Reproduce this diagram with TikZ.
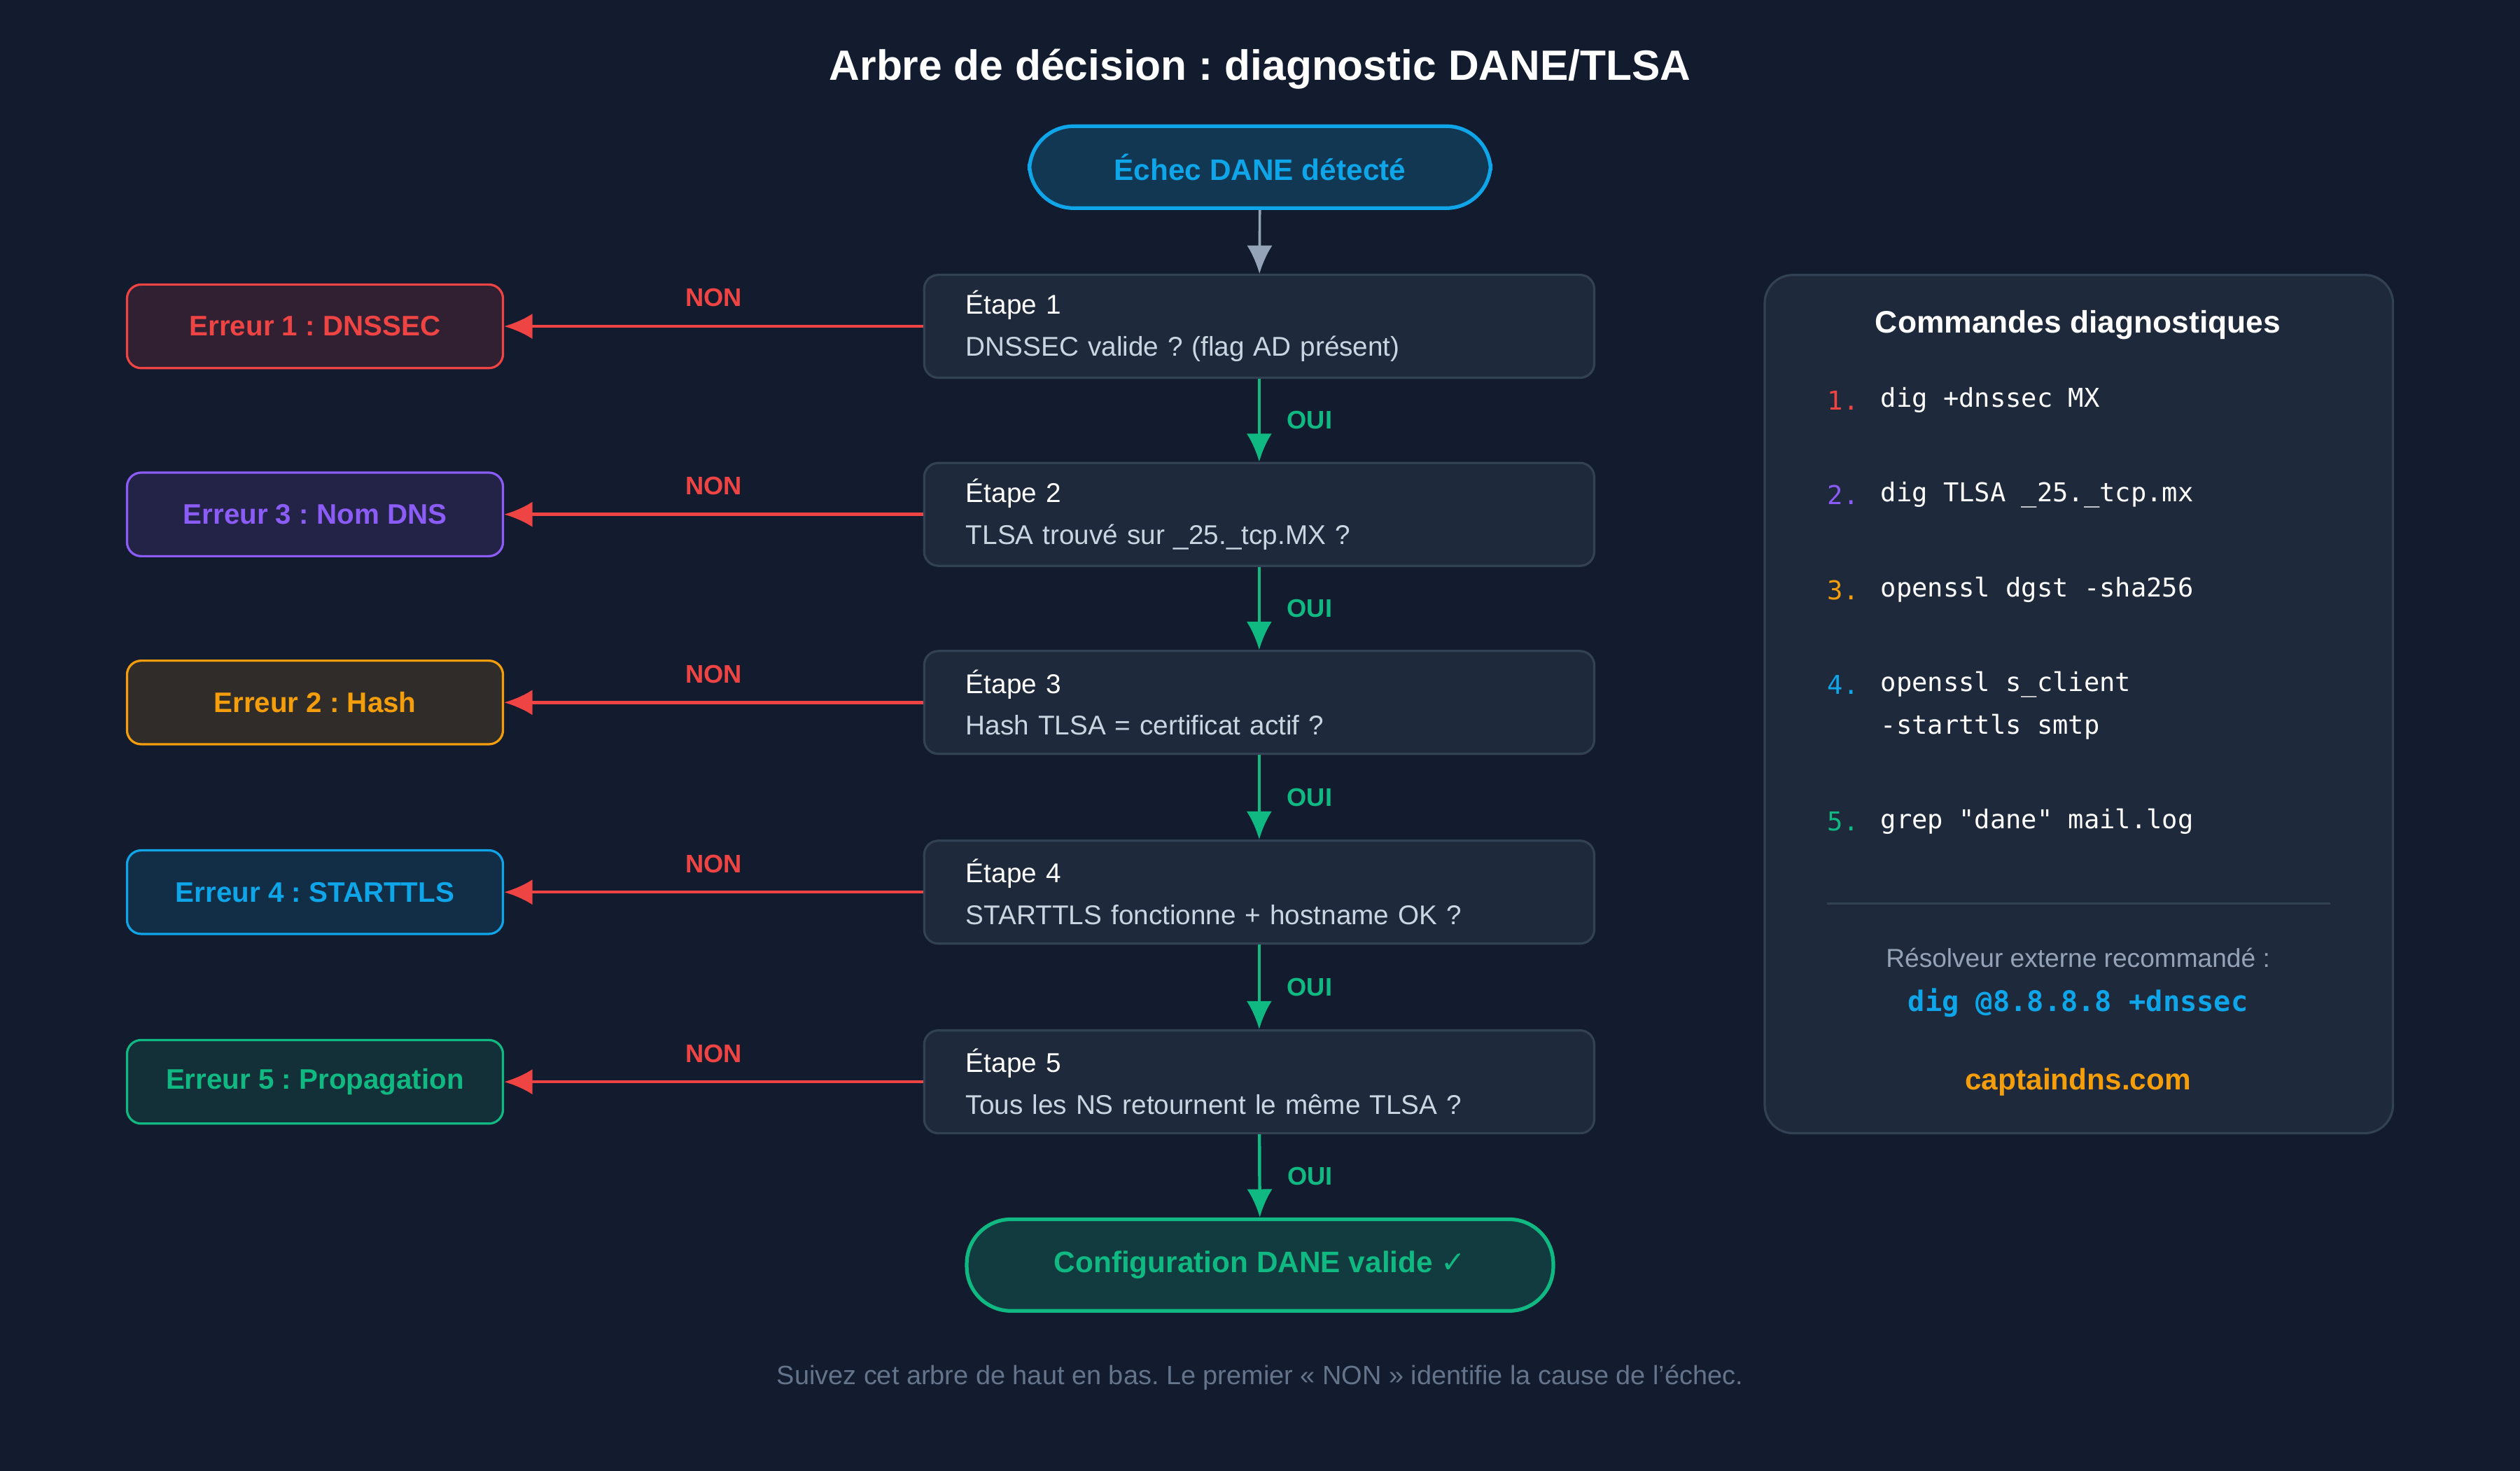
\documentclass[tikz,border=0pt]{standalone}
\usepackage{fontspec}
\setmainfont{Liberation Sans}
\newfontfamily\monof{DejaVu Sans Mono}
\newfontfamily\symf{DejaVu Sans}
\usepackage{tikz}
\usetikzlibrary{arrows.meta}
\usepackage{xcolor}
\frenchspacing

\definecolor{fond}{HTML}{131B2E}
\definecolor{carte}{HTML}{1E293B}
\definecolor{bord}{HTML}{334155}
\definecolor{gris}{HTML}{94A3B8}
\definecolor{grisclair}{HTML}{CBD5E1}
\definecolor{grisfonce}{HTML}{64748B}
\definecolor{rouge}{HTML}{EF4444}
\definecolor{violet}{HTML}{8B5CF6}
\definecolor{orange}{HTML}{F59E0B}
\definecolor{cyan}{HTML}{0EA5E9}
\definecolor{vert}{HTML}{10B981}

\tikzset{
  etape/.style={draw=bord,fill=carte,rounded corners=5pt,line width=0.8pt,
    minimum width=8.34cm,minimum height=1.28cm,text width=7.3cm,align=left,
    inner xsep=0.52cm,font=\fontsize{9.6}{14.8}\selectfont},
  erreur/.style={draw=#1,fill=#1!13!fond,text=#1,rounded corners=5pt,line width=0.8pt,
    minimum width=4.68cm,minimum height=1.04cm,font=\fontsize{10}{12}\selectfont\bfseries},
  terminal/.style={draw=#1,fill=#1!20!fond,text=#1,rounded corners=0.55cm,line width=1.3pt,
    font=\fontsize{10.5}{12}\selectfont\bfseries},
  fleche/.style={-{Latex[length=10pt,width=9pt]},line width=1.1pt},
  etiq/.style={font=\fontsize{9}{11}\selectfont\bfseries},
  cmd/.style={anchor=west,text=white,font=\monof\fontsize{9.2}{15}\selectfont}
}

\begin{document}
\begin{tikzpicture}[x=0.02cm,y=-0.02cm]

  % Fond et cadre
  \fill[fond] (0,0) rectangle (1568,915);
  \useasboundingbox (0,0) rectangle (1568,915);

  % Titre
  \node[text=white,font=\fontsize{15}{18}\selectfont\bfseries] (titre) at (784,43)
    {Arbre de décision : diagnostic DANE/TLSA};

  % Debut et fin
  \node[terminal=cyan,minimum width=5.74cm,minimum height=1.02cm] (debut) at (784,104)
    {Échec DANE détecté};
  \node[terminal=vert,minimum width=7.3cm,minimum height=1.14cm] (fin) at (784,787)
    {Configuration DANE valide {\symf ✓}};

  % Etapes et erreurs
  \foreach \i/\y/\q/\err/\col in {
      1/203/{DNSSEC valide ? (flag AD présent)}/{Erreur 1 : DNSSEC}/rouge,
      2/320/{TLSA trouvé sur \_25.\_tcp.MX ?}/{Erreur 3 : Nom DNS}/violet,
      3/437/{Hash TLSA = certificat actif ?}/{Erreur 2 : Hash}/orange,
      4/555/{STARTTLS fonctionne + hostname OK ?}/{Erreur 4 : STARTTLS}/cyan,
      5/673/{Tous les NS retournent le même TLSA ?}/{Erreur 5 : Propagation}/vert} {
    \node[etape] (s\i) at (783.5,\y) {{\color{white}Étape \i}\\{\color{grisclair}\q}};
    \node[erreur=\col] (e\i) at (196,\y) {\err};
    \draw[fleche,rouge] (s\i) -- (e\i) node[etiq,midway,above=3pt] {NON};
  }

  % Fleches verticales
  \draw[fleche,gris,line width=0.9pt] (debut) -- (s1);
  \foreach \i/\j in {1/2,2/3,3/4,4/5} {
    \draw[fleche,vert] (s\i) -- (s\j) node[etiq,midway,right=6pt,text=vert] {OUI};
  }
  \draw[fleche,vert] (s5) -- (fin) node[etiq,midway,right=6pt,text=vert] {OUI};

  % Panneau des commandes
  \node[draw=bord,fill=carte,rounded corners=10pt,line width=0.8pt,
    minimum width=7.82cm,minimum height=10.68cm] (panneau) at (1293.5,438) {};
  \node[text=white,font=\fontsize{11}{13}\selectfont\bfseries] (ptitre) at (1293,202)
    {Commandes diagnostiques};
  \foreach \n/\y/\col/\c in {
      1/249/rouge/{dig +dnssec MX},
      2/308/violet/{dig TLSA \_25.\_tcp.mx},
      3/367/orange/{openssl dgst -sha256},
      4/426/cyan/{openssl s\_client},
      5/511/vert/{grep "dane" mail.log}} {
    \node[cmd,text=\col] (n\n) at (1131,\y) {\n.};
    \node[cmd] (c\n) at (1164,\y) {\c};
  }
  \node[cmd] (c4b) at (1164,452) {-starttls smtp};

  % Separateur et pied du panneau
  \draw[bord,line width=0.8pt] (1137,562) -- (1450,562);
  \node[text=gris,font=\fontsize{9.2}{11}\selectfont] (resolv) at (1293,596)
    {Résolveur externe recommandé :};
  \node[text=cyan,font=\monof\fontsize{10}{12}\selectfont\bfseries] (digcmd) at (1293,624)
    {dig @8.8.8.8 +dnssec};
  \node[text=orange,font=\fontsize{10.5}{12}\selectfont\bfseries] (site) at (1293,673)
    {captaindns.com};

  % Note de bas de page
  \node[text=grisfonce,font=\fontsize{9.4}{11}\selectfont] (note) at (784,857)
    {Suivez cet arbre de haut en bas. Le premier « NON » identifie la cause de l'échec.};

\end{tikzpicture}
\end{document}
